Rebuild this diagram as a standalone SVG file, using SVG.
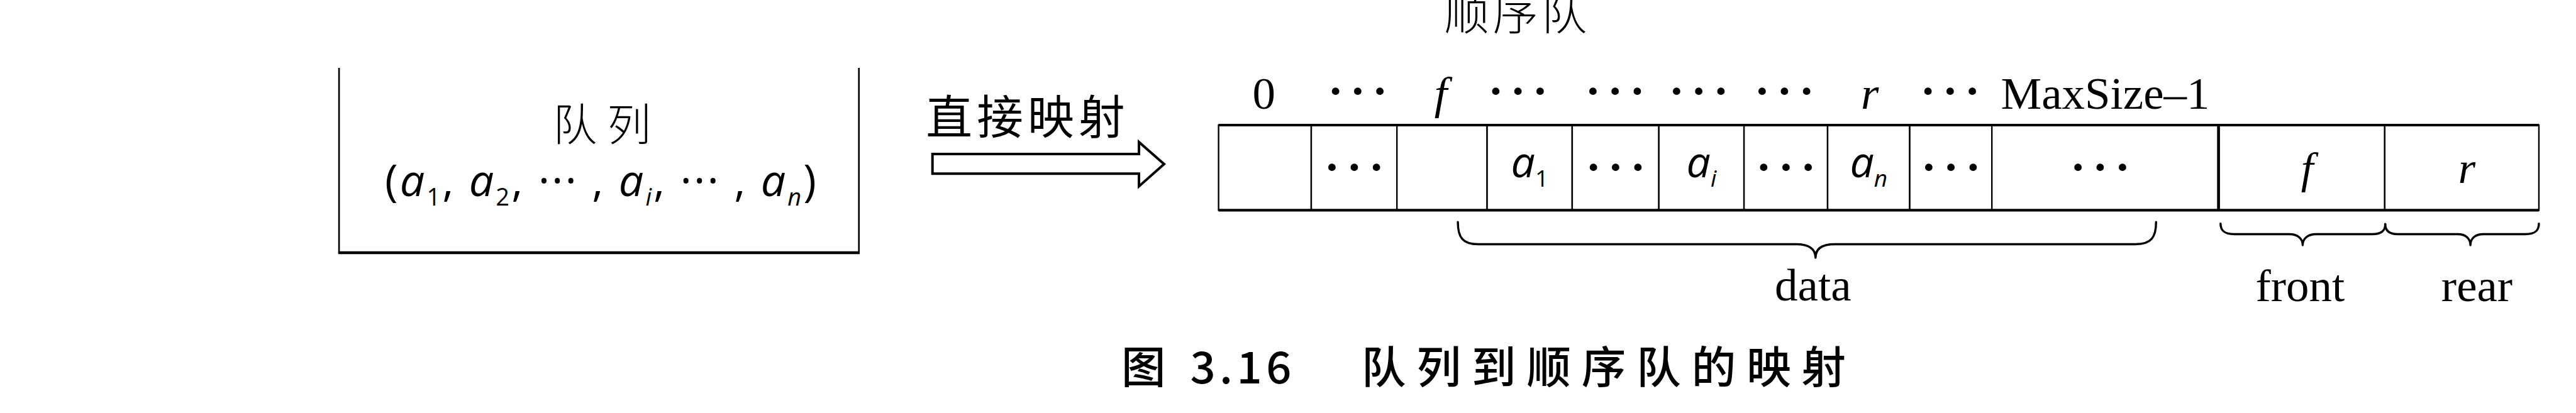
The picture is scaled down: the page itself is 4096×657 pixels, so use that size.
<svg xmlns="http://www.w3.org/2000/svg" width="4096" height="657" viewBox="0 0 4096 657">
<style>
  .ln{fill:none;stroke:#000;stroke-linejoin:miter}
  .cell{fill:#fff;stroke:#000;stroke-width:2.4}
  .cjk{font-family:"Noto Sans CJK SC","Noto Sans CJK TC",sans-serif;fill:#000}
  .ser{font-family:"Liberation Serif","Times New Roman",serif;fill:#000}
  .lab{font-size:72.9px}
  .iser{font-family:"Liberation Serif","Times New Roman",serif;font-style:italic;fill:#000}
  .dots{font-family:"Liberation Serif","Times New Roman",serif;font-size:72.9px;font-weight:bold;letter-spacing:11px;fill:#000}
  .m{font-family:"Open Sans","Noto Sans",sans-serif;fill:#000}
  .it{font-style:italic}
  .brace{fill:none;stroke:#000;stroke-width:3.4;stroke-linecap:round;stroke-linejoin:round}
</style>
<rect x="0" y="0" width="4096" height="657" fill="#fff"/>

<g id="title">
  <text class="cjk" x="2409.8" y="47" font-size="72" text-anchor="middle" textLength="227" font-weight="300">顺序队</text>
</g>

<g id="queue-box">
  <path class="ln" d="M539.1,108.1 V402.1" stroke-width="2.6"/>
  <path class="ln" d="M1365.7,108.1 V402.1" stroke-width="2.6"/>
  <path class="ln" d="M537.8,402.1 H1367" stroke-width="4.5"/>
  <text class="cjk" x="957.2" y="224" font-size="70" text-anchor="middle" textLength="156" font-weight="300">队列</text>
  <text class="m" x="612" y="311.6" font-size="70" textLength="686" lengthAdjust="spacing">(<tspan class="it">a</tspan><tspan font-size="38" dy="15">1</tspan><tspan dy="-15">, </tspan><tspan class="it">a</tspan><tspan font-size="38" dy="15">2</tspan><tspan dy="-15">, ··· , </tspan><tspan class="it">a</tspan><tspan font-size="38" class="it" dy="15">i</tspan><tspan dy="-15">, ··· , </tspan><tspan class="it">a</tspan><tspan font-size="38" class="it" dy="15">n</tspan><tspan dy="-15">)</tspan></text>
</g>

<g id="connectors">
  <path id="map-arrow" class="ln" stroke-width="4" d="M1482.7,245.1 L1811,245.1 L1811,225.9 L1851,261.1 L1811,296.4 L1811,276.3 L1482.7,276.3 Z"/>
  <text class="cjk" x="1472.3" y="212.7" font-size="73.7" textLength="316.4">直接映射</text>
</g>

<g id="index-labels">
  <text class="ser lab" x="2009.7" y="173" text-anchor="middle">0</text>
  <text class="dots" x="2164.4" y="168.5" text-anchor="middle">···</text>
  <text class="iser lab" x="2290.9" y="173" text-anchor="middle">f</text>
  <text class="dots" x="2419.1" y="168.5" text-anchor="middle">···</text>
  <text class="dots" x="2573.7" y="168.5" text-anchor="middle">···</text>
  <text class="dots" x="2706.7" y="168.5" text-anchor="middle">···</text>
  <text class="dots" x="2842.8" y="168.5" text-anchor="middle">···</text>
  <text class="iser lab" x="2973.3" y="173" text-anchor="middle">r</text>
  <text class="dots" x="3106.4" y="168.5" text-anchor="middle">···</text>
  <text class="ser lab" x="3347.4" y="173" text-anchor="middle">MaxSize–1</text>
</g>

<g id="array">
  <g id="cell-0"><rect class="cell" x="1937.6" y="199" width="147.4" height="135.4"/></g>
  <g id="cell-1"><rect class="cell" x="2085" y="199" width="136.2" height="135.4"/><text class="dots" x="2158.8" y="289.5" text-anchor="middle">···</text></g>
  <g id="cell-f"><rect class="cell" x="2221.2" y="199" width="143.4" height="135.4"/></g>
  <g id="cell-a1"><rect class="cell" x="2364.6" y="199" width="135.3" height="135.4"/><text class="m" x="2432.3" y="282" font-size="68" text-anchor="middle"><tspan class="it">a</tspan><tspan font-size="37" dy="15">1</tspan></text></g>
  <g id="cell-4"><rect class="cell" x="2499.9" y="199" width="137.8" height="135.4"/><text class="dots" x="2574.5" y="289.5" text-anchor="middle">···</text></g>
  <g id="cell-ai"><rect class="cell" x="2637.7" y="199" width="135.4" height="135.4"/><text class="m" x="2705.4" y="282" font-size="68" text-anchor="middle"><tspan class="it">a</tspan><tspan class="it" font-size="37" dy="15">i</tspan></text></g>
  <g id="cell-6"><rect class="cell" x="2773.1" y="199" width="132.9" height="135.4"/><text class="dots" x="2845.3" y="289.5" text-anchor="middle">···</text></g>
  <g id="cell-an"><rect class="cell" x="2906" y="199" width="130.6" height="135.4"/><text class="m" x="2971.3" y="282" font-size="68" text-anchor="middle"><tspan class="it">a</tspan><tspan class="it" font-size="37" dy="15">n</tspan></text></g>
  <g id="cell-8"><rect class="cell" x="3036.6" y="199" width="130.6" height="135.4"/><text class="dots" x="3107.6" y="289.5" text-anchor="middle">···</text></g>
  <g id="cell-rest"><rect class="cell" x="3167.2" y="199" width="360.4" height="135.4"/><text class="dots" x="3345" y="289.5" text-anchor="middle">···</text></g>
  <g id="cell-front"><rect class="cell" x="3527.6" y="199" width="264.3" height="135.4"/><text class="iser" x="3668.6" y="290.8" font-size="70.5" text-anchor="middle">f</text></g>
  <g id="cell-rear"><rect class="cell" x="3791.9" y="199" width="245.1" height="135.4"/><text class="iser" x="3922.5" y="290.8" font-size="70.5" text-anchor="middle">r</text></g>
  <path class="ln" stroke-width="4.2" d="M1937.6,199 H4037 M1937.6,334.4 H4037"/>
  <path class="ln" stroke-width="4.6" d="M3527.6,199 V334.4"/>
</g>

<g id="brace-data">
  <path class="brace" d="M2318.1,353.2 C2318.1,378 2326,388.5 2350,388.5 L2856,388.5 C2876,388.5 2886.8,396 2886.8,410.1 C2886.8,396 2897,388.5 2917,388.5 L3396,388.5 C3420,388.5 3428.3,378 3428.3,353.2"/>
  <text class="ser lab" x="2882.8" y="478.2" text-anchor="middle">data</text>
</g>
<g id="brace-front">
  <path class="brace" d="M3530.8,355.6 C3530.8,367 3537,372.5 3552,372.5 L3640,372.5 C3654,372.5 3661.4,380 3661.4,390.1 C3661.4,380 3669,372.5 3683,372.5 L3772,372.5 C3787,372.5 3792.7,367 3792.7,356.4"/>
  <text class="ser lab" x="3657.4" y="479" text-anchor="middle">front</text>
</g>
<g id="brace-rear">
  <path class="brace" d="M3792.7,356.4 C3792.7,367 3799,372.5 3813,372.5 L3908,372.5 C3921,372.5 3928.1,380 3928.1,390.1 C3928.1,380 3935,372.5 3949,372.5 L4016,372.5 C4031,372.5 4037,367 4037,355.6"/>
  <text class="ser lab" x="3938.5" y="479" text-anchor="middle">rear</text>
</g>

<g id="caption">
  <text class="cjk" x="1783" y="610" font-size="70.5" font-weight="500">图</text>
  <text class="cjk" x="1892.4" y="610" font-size="70.5" textLength="161" font-weight="500">3.16</text>
  <text class="cjk" x="2165.1" y="610" font-size="70.5" textLength="770" font-weight="500">队列到顺序队的映射</text>
</g>
</svg>
